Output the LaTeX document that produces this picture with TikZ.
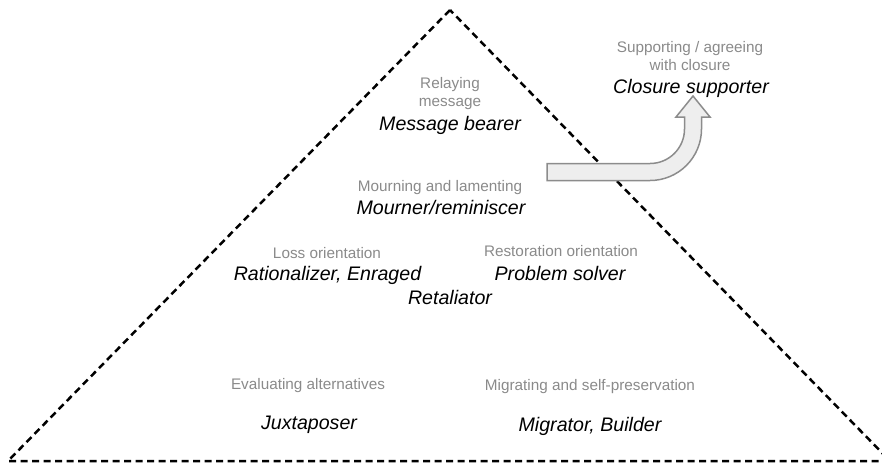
\documentclass[tikz,border=0pt]{standalone}
\usepackage{fontspec}
\setmainfont{Liberation Sans}
\usetikzlibrary{arrows}
\definecolor{labelgray}{HTML}{8A8A8A}
\definecolor{arrowfill}{HTML}{EEEEEE}
\definecolor{arrowline}{HTML}{8C8C8C}
\tikzset{lbl/.style={text=labelgray, font=\fontsize{15.3}{18}\selectfont, align=center, anchor=base, inner sep=0pt}}
\tikzset{role/.style={text=black, font=\fontsize{19.6}{22}\selectfont\itshape, anchor=base, inner sep=0pt}}
\tikzset{edge/.style={line width=2.5pt, dash pattern=on 7pt off 4.5pt}}

\begin{document}
\begin{tikzpicture}[x=1pt,y=-1pt]
  \clip (0,0) rectangle (882,464);

  % pyramid
  \draw[edge] (450,10)--(8,461)--(890,461)--cycle;

  % bent arrow out of the pyramid
  \draw[arrowline, fill=arrowfill, line width=1.5pt, line join=miter]
    (547,163.5)--(650,163.5) arc (90:0:34.5) --(684.5,117)--(676,117)--(693,96)
    --(710,117)--(701.5,117)--(701.5,129) arc (0:90:51.5) --(547,180.5)--cycle;

  % two-line labels sit on their last line
  \node[lbl] (relay) at (450,106) {Relaying\\message};
  \node[role] (bearer) at (450,130) {Message bearer};

  \node[lbl] (mourn) at (440,191.5) {Mourning and lamenting};
  \node[role] (mourner) at (441,214) {Mourner/reminiscer};

  \node[lbl] (loss) at (327,258.5) {Loss orientation};
  \node[role] (rational) at (327.5,280) {Rationalizer, Enraged};
  \node[role] (retal) at (450,304) {Retaliator};

  \node[lbl] (restore) at (561,256.5) {Restoration orientation};
  \node[role] (solver) at (560,280) {Problem solver};

  \node[lbl] (support) at (690,70) {Supporting / agreeing\\with closure};
  \node[role] (closure) at (691,93) {Closure supporter};

  \node[lbl] (evaluate) at (308,389.5) {Evaluating alternatives};
  \node[role] (juxta) at (309,429) {Juxtaposer};

  \node[lbl] (migrate) at (590,390.5) {Migrating and self-preservation};
  \node[role] (builder) at (590,431) {Migrator, Builder};
\end{tikzpicture}
\end{document}
